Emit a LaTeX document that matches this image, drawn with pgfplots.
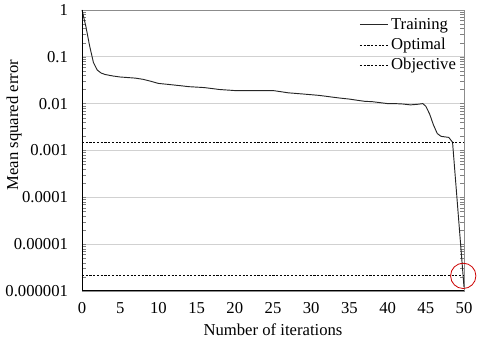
\documentclass[border=0pt]{standalone}
\usepackage{fontspec}
\setmainfont{Liberation Serif}
\usepackage{pgfplots}
\pgfplotsset{compat=1.18}

\begin{document}
\begin{tikzpicture}
\begin{axis}[
    scale only axis,
    width=286.5pt,
    height=210.75pt,
    ymode=log,
    xmin=0, xmax=50,
    ymin=1e-6, ymax=1,
    clip=false,
    xtick={0,5,...,50},
    ytick={1e-6,1e-5,1e-4,1e-3,1e-2,1e-1,1},
    yticklabels={0.000001,0.00001,0.0001,0.001,0.01,0.1,1},
    minor ytick={},
    major tick length=0pt,
    font=\fontsize{12.5}{14}\selectfont,
    /pgf/number format/assume math mode=true,
    xticklabel style={yshift=-5pt},
    yticklabel style={xshift=-7pt},
    xlabel={Number of iterations},
    ylabel={Mean squared error},
    xlabel style={at={(axis description cs:0.5,-0.139)}, anchor=center},
    ylabel style={at={(axis description cs:-0.178,0.59)}, anchor=center},
    axis line style={draw=black!45, line width=0.6pt},
    ymajorgrids=true,
    grid style={draw=black!18, line width=0.6pt},
    legend style={draw=none, fill=none, at={(0.99,0.985)}, anchor=north east,
        font=\fontsize{12.5}{14}\selectfont, row sep=1pt, inner sep=1pt},
    legend cell align=left,
    legend image code/.code={\draw[#1] (0cm,0cm) -- (0.74cm,0cm);},
]
\addplot[black!85, line width=0.7pt] coordinates {
    (0,1) (0.5,0.45) (1,0.17) (1.5,0.075) (2,0.052) (2.5,0.045) (3,0.042)
    (4,0.039) (5,0.037) (6,0.036) (7,0.035) (8,0.033) (9,0.030) (10,0.027)
    (11,0.026) (12,0.025) (13,0.024) (14,0.023) (15,0.0225) (16,0.022)
    (17,0.021) (18,0.020) (19,0.0195) (20,0.019) (21,0.019) (22,0.019)
    (23,0.019) (24,0.019) (25,0.019) (26,0.018) (27,0.017) (28,0.0165)
    (29,0.016) (30,0.0155) (31,0.015) (32,0.0143) (33,0.0136) (34,0.013)
    (35,0.0125) (36,0.0118) (37,0.0112) (38,0.011) (39,0.0105) (40,0.010)
    (41,0.010) (42,0.0098) (43,0.0094) (44,0.0097) (44.6,0.010) (45,0.0088)
    (45.5,0.006) (46,0.0035) (46.5,0.0023) (47,0.002) (48,0.0019)
    (48.5,0.0015) (50,1.2e-6)
};
\addlegendentry{Training}
\addplot[black, line width=0.6pt, dash pattern=on 1.6pt off 1.2pt] coordinates {
    (0,0.00145) (50,0.00145)
};
\addlegendentry{Optimal}
\addplot[black, line width=0.6pt, dash pattern=on 1.6pt off 1.2pt] coordinates {
    (0,2.1e-6) (50,2.1e-6)
};
\addlegendentry{Objective}
\addplot[only marks, mark=o, mark size=9.5pt, red!80!black, line width=0.6pt,
    forget plot] coordinates {
    (49.9,2.1e-6)
};
\draw[black, line width=0.7pt] (rel axis cs:0,1) -- (rel axis cs:0,0) -- (rel axis cs:1,0);
\end{axis}
\path (current axis.south west) ++(-61.5pt,-38.25pt) coordinate (bbA);
\path (current axis.north east) ++(12pt,5.25pt) coordinate (bbB);
\path (bbA) rectangle (bbB);
\end{tikzpicture}
\end{document}
